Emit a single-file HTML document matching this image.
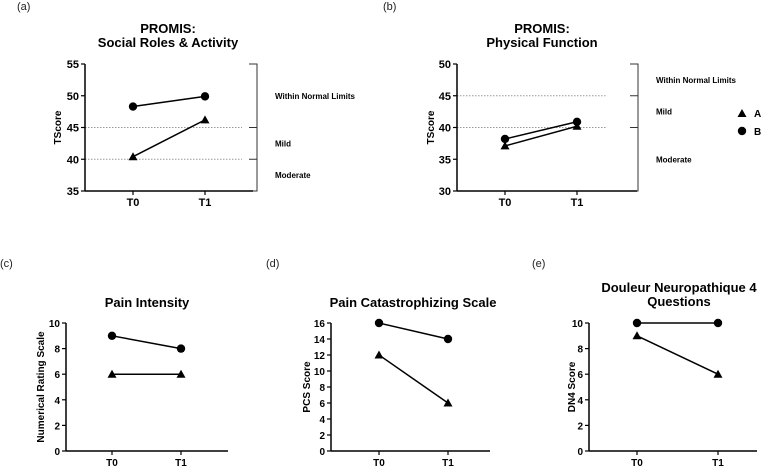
<!DOCTYPE html>
<html><head><meta charset="utf-8"><style>
body{margin:0;background:#fff;}
svg{display:block;font-family:"Liberation Sans",Arial,sans-serif;}
</style></head><body>
<svg id="s" width="764" height="466" viewBox="0 0 764 466"></svg>
<script>
const categories=["T0","T1"];
// panel a
const aA=[40.4,46.2], aB=[48.3,49.9], aTicks=[35,40,45,50,55];
// panel b
const bA=[37.1,40.2], bB=[38.2,40.9], bTicks=[30,35,40,45,50];
// panel c
const cA=[6,6], cB=[9,8], cTicks=[0,2,4,6,8,10];
// panel d
const dA=[12,6], dB=[16,14], dTicks=[0,2,4,6,8,10,12,14,16];
// panel e
const eA=[9,6], eB=[10,10], eTicks=[0,2,4,6,8,10];
const aBands=[45,40], bBands=[45,40];
const aBandLabels=["Within Normal Limits","Mild","Moderate"];
const bBandLabels=["Within Normal Limits","Mild","Moderate"];

const S=document.getElementById('s');const NS='http://www.w3.org/2000/svg';
function el(t,a,p){const e=document.createElementNS(NS,t);for(const k in a)e.setAttribute(k,a[k]);(p||S).appendChild(e);return e;}
function txt(x,y,s,a,p){const e=el('text',Object.assign({x:x,y:y},a),p);e.textContent=s;return e;}

function panel(o){
  const g=el('g',{});
  
  
  const ticks=o.ticks,min=ticks[0],max=ticks[ticks.length-1];
  const ys=v=>o.y1-(v-min)/(max-min)*(o.y1-o.y0);
  const xs=i=>o.xT[i];
  const lbl=txt(o.lx,o.ly,o.letter,{'font-size':11,fill:'#222'},g);
  
  o.title.forEach((t,i)=>{const e=txt(o.tx,o.ty+i*14,t,{'font-size':13,'font-weight':'bold','text-anchor':'middle'},g);
    });
  if(o.bands){
    o.bands.forEach(v=>{const l=el('line',{x1:o.x0,x2:o.gridEnd,y1:ys(v),y2:ys(v),stroke:'#999','stroke-width':1,'stroke-dasharray':'1.5,1.5'},g);
      });
    const bx=o.bx;
    const br=el('path',{d:`M${bx-8},${o.y0}H${bx}V${o.y1}H${bx-8}`,fill:'none',stroke:'#333','stroke-width':1},g);
    
    o.bands.forEach(v=>el('line',{x1:bx-8,x2:bx,y1:ys(v),y2:ys(v),stroke:'#333'},g));
    const edges=[max].concat(o.bands).concat([min]);
    o.bandLabels.forEach((s,i)=>{const e=txt(bx+18,(ys(edges[i])+ys(edges[i+1]))/2+3,s,{'font-size':8,'font-weight':'bold'},g);
      });
  }
  const ya=el('line',{x1:o.x0,x2:o.x0,y1:o.y0,y2:o.y1,stroke:'#000','stroke-width':1.5},g);
  
  const xa=el('line',{x1:o.x0,x2:o.x1,y1:o.y1,y2:o.y1,stroke:'#000','stroke-width':1.5},g);
  
  ticks.forEach(v=>{el('line',{x1:o.x0-4,x2:o.x0,y1:ys(v),y2:ys(v),stroke:'#000','stroke-width':1.2},g);
    const e=txt(o.x0-6,ys(v)+4,String(v),{'font-size':o.fs,'font-weight':'bold','text-anchor':'end'},g);
    });
  categories.forEach((c,i)=>{el('line',{x1:xs(i),x2:xs(i),y1:o.y1,y2:o.y1+4,stroke:'#000','stroke-width':1.2},g);
    const e=txt(xs(i),o.y1+15,c,{'font-size':o.fs,'font-weight':'bold','text-anchor':'middle'},g);
    });
  const yt=txt(0,0,o.ylabel,{'font-size':o.yfs,'font-weight':'bold','text-anchor':'middle',transform:`translate(${o.ylx},${(o.y0+o.y1)/2}) rotate(-90)`},g);
  
  [[o.A,'tri','series-a'],[o.B,'circ','series-b']].forEach(([d,m,n])=>{
    const pl=el('polyline',{points:d.map((v,i)=>xs(i)+','+ys(v)).join(' '),fill:'none',stroke:'#000','stroke-width':1.5},g);
    
    d.forEach((v,i)=>{let mk;const x=xs(i),y=ys(v);
      if(m==='circ')mk=el('circle',{cx:x,cy:y,r:4.2,fill:'#000'},g);
      else mk=el('path',{d:`M${x},${y-4.5}L${x+4.5},${y+3.5}L${x-4.5},${y+3.5}Z`,fill:'#000'},g);
      });
  });
}
panel({name:'panel-a-social-roles',letter:'(a)',lx:17,ly:10,title:['PROMIS:','Social Roles & Activity'],tx:168,ty:33,
  x0:85,x1:253,y0:64,y1:191,xT:[133,205],ticks:aTicks,A:aA,B:aB,fs:11,yfs:10,ylabel:'TScore',ylx:61,
  bands:aBands,bandLabels:aBandLabels,gridEnd:242,bx:257});
panel({name:'panel-b-physical-function',letter:'(b)',lx:383,ly:10,title:['PROMIS:','Physical Function'],tx:542,ty:33,
  x0:457,x1:637,y0:64,y1:191,xT:[505,577],ticks:bTicks,A:bA,B:bB,fs:11,yfs:10,ylabel:'TScore',ylx:434,
  bands:bBands,bandLabels:bBandLabels,gridEnd:606,bx:638});
panel({name:'panel-c-pain-intensity',letter:'(c)',lx:0,ly:267,title:['Pain Intensity'],tx:147,ty:307,
  x0:66,x1:228,y0:323,y1:451,xT:[112,181],ticks:cTicks,A:cA,B:cB,fs:10,yfs:10,ylabel:'Numerical Rating Scale',ylx:44});
panel({name:'panel-d-pcs',letter:'(d)',lx:266,ly:267,title:['Pain Catastrophizing Scale'],tx:413,ty:307,
  x0:331,x1:490,y0:323,y1:451,xT:[379,448],ticks:dTicks,A:dA,B:dB,fs:10,yfs:10,ylabel:'PCS Score',ylx:310});
panel({name:'panel-e-dn4',letter:'(e)',lx:532,ly:267,title:['Douleur Neuropathique 4','Questions'],tx:679,ty:292,
  x0:589,x1:757,y0:323,y1:451,xT:[637,718],ticks:eTicks,A:eA,B:eB,fs:10,yfs:10,ylabel:'DN4 Score',ylx:575});
const lg=el('g',{});


const lt=el('path',{d:'M742,109L746.5,117L737.5,117Z',fill:'#000'},lg);

const la=txt(754,117,'A',{'font-size':10,'font-weight':'bold'},lg);

const lc=el('circle',{cx:742,cy:131,r:4.2,fill:'#000'},lg);

const lb=txt(754,135,'B',{'font-size':10,'font-weight':'bold'},lg);

</script>
</body></html>
